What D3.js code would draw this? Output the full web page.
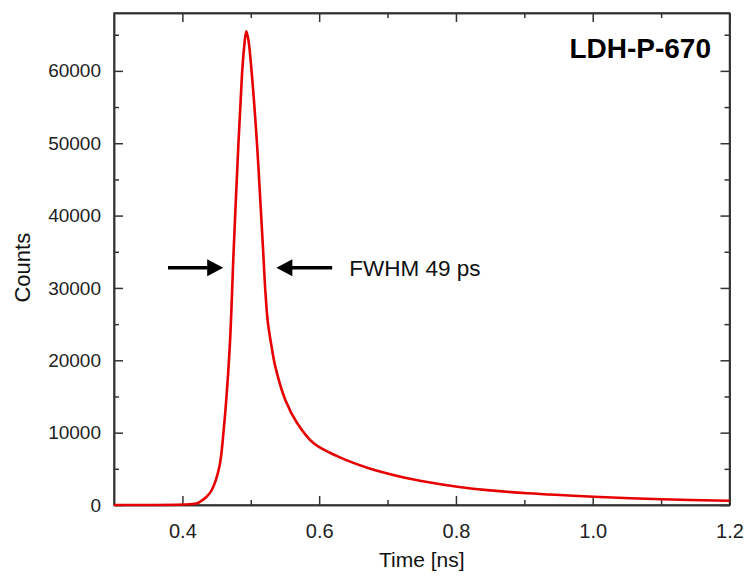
<!DOCTYPE html>
<html>
<head>
<meta charset="utf-8">
<script src="https://cdn.jsdelivr.net/npm/d3@7"></script>
<style>
  html, body { margin: 0; padding: 0; background: #fff; }
  svg { display: block; font-family: "Liberation Sans", Arial, sans-serif; }
</style>
</head>
<body>
<svg id="chart" width="745" height="576"></svg>
<script>
// ---- data ----
const times  = [0.30, 0.35, 0.40, 0.42, 0.426, 0.435, 0.443, 0.454, 0.460, 0.469, 0.475, 0.482, 0.487, 0.490, 0.4934, 0.4965, 0.5018, 0.509, 0.5147, 0.5180, 0.5212, 0.5249, 0.5300, 0.5359, 0.5505, 0.5677, 0.5916, 0.6263, 0.6703, 0.719, 0.760, 0.802, 0.850, 0.905, 1.002, 1.102, 1.200];
const counts = [0,    0,    60,   200,  456,   1100,  2075,  5255,  9958,  21437, 35267, 50065, 59235, 63000, 65457,  64300,  59235,  50065, 40800,  35270,  29740,  25310,  22130,  19130,  14520,  11340,  8570,   6750,   5150,   3910,  3150,  2530,  2020,  1618,  1148,  788,   595];
const xMajorTicks = [0.4, 0.6, 0.8, 1.0, 1.2];
const xMinorTicks = [0.5, 0.7, 0.9, 1.1];
const yMajorTicks = [0, 10000, 20000, 30000, 40000, 50000, 60000];
const yMinorTicks = [5000, 15000, 25000, 35000, 45000, 55000, 65000];
const xDomain = [0.3, 1.2];
const yDomain = [0, 68000];
const titleText = "LDH-P-670";
const fwhmText = "FWHM 49 ps";
const xLabel = "Time [ns]";
const yLabel = "Counts";
const fwhmLevel = 32800;        // counts level of the FWHM arrows
const leftArrow = [0.379, 0.4597];   // tail, tip (time)
const rightArrow = [0.619, 0.5374];  // tail, tip (time)
const fwhmTextAt = 0.644;

// ---- layout ----
const svg = d3.select("#chart");
const L = 114, R = 729.5, T = 13, B = 505;
const x = d3.scaleLinear().domain(xDomain).range([L, R]);
const y = d3.scaleLinear().domain(yDomain).range([B, T]);
const axisColor = "#333";
const tickFont = "19px";

function styleAxis(g, fontSize) {
  g.selectAll(".domain").attr("stroke", axisColor).attr("stroke-width", 1.5);
  g.selectAll(".tick line").attr("stroke", axisColor).attr("stroke-width", 1.5);
  g.selectAll(".tick text").attr("fill", "#222").style("font-size", fontSize)
    .style("font-family", '"Liberation Sans", Arial, sans-serif');
}

// bottom axis (major, labelled)
const gxb = svg.append("g").attr("transform", `translate(0,${B})`)
  .call(d3.axisBottom(x).tickValues(xMajorTicks).tickFormat(d3.format(".1f"))
    .tickSizeInner(-9).tickSizeOuter(0).tickPadding(19));
styleAxis(gxb, "20px");
svg.append("g").attr("transform", `translate(0,${B})`)
  .call(d3.axisBottom(x).tickValues(xMinorTicks).tickFormat("").tickSizeInner(-5).tickSizeOuter(0))
  .call(g => styleAxis(g, tickFont));

// top axis
svg.append("g").attr("transform", `translate(0,${T})`)
  .call(d3.axisTop(x).tickValues(xMajorTicks).tickFormat("").tickSizeInner(-9).tickSizeOuter(0))
  .call(g => styleAxis(g, tickFont));
svg.append("g").attr("transform", `translate(0,${T})`)
  .call(d3.axisTop(x).tickValues(xMinorTicks).tickFormat("").tickSizeInner(-5).tickSizeOuter(0))
  .call(g => styleAxis(g, tickFont));

// left axis (major, labelled)
const gyl = svg.append("g").attr("transform", `translate(${L},0)`)
  .call(d3.axisLeft(y).tickValues(yMajorTicks).tickFormat(d3.format("d"))
    .tickSizeInner(-9).tickSizeOuter(0).tickPadding(13));
styleAxis(gyl, tickFont);
svg.append("g").attr("transform", `translate(${L},0)`)
  .call(d3.axisLeft(y).tickValues(yMinorTicks).tickFormat("").tickSizeInner(-5).tickSizeOuter(0))
  .call(g => styleAxis(g, tickFont));

// right axis
svg.append("g").attr("transform", `translate(${R},0)`)
  .call(d3.axisRight(y).tickValues(yMajorTicks).tickFormat("").tickSizeInner(-9).tickSizeOuter(0))
  .call(g => styleAxis(g, tickFont));
svg.append("g").attr("transform", `translate(${R},0)`)
  .call(d3.axisRight(y).tickValues(yMinorTicks).tickFormat("").tickSizeInner(-5).tickSizeOuter(0))
  .call(g => styleAxis(g, tickFont));

// frame
svg.append("rect").attr("x", L).attr("y", T).attr("width", R - L).attr("height", B - T)
  .attr("fill", "none").attr("stroke", axisColor).attr("stroke-width", 1.5);

// data line
const data = times.map((t, i) => ({ t, c: counts[i] }));
svg.append("path").datum(data)
  .attr("fill", "none").attr("stroke", "#e60000").attr("stroke-width", 2.6)
  .attr("stroke-linejoin", "round")
  .attr("d", d3.line().x(d => x(d.t)).y(d => y(d.c)).curve(d3.curveCatmullRom.alpha(0.5)));

// axis labels
svg.append("text").attr("x", x(0.75)).attr("y", 567).attr("text-anchor", "middle")
  .style("font-size", "21px").attr("fill", "#111").text(xLabel);
svg.append("text").attr("transform", `translate(30,${y(32800)}) rotate(-90)`)
  .attr("text-anchor", "middle").style("font-size", "22px").attr("fill", "#111").text(yLabel);

// title
svg.append("text").attr("x", 711).attr("y", 58).attr("text-anchor", "end")
  .style("font-size", "28px").style("font-weight", "bold").attr("fill", "#000").text(titleText);

// FWHM arrows
function arrow(tail, tip) {
  const y0 = y(fwhmLevel);
  const x0 = x(tail), x1 = x(tip);
  const dir = Math.sign(x1 - x0);
  const headLen = 16, headHalf = 8.5;
  svg.append("line").attr("x1", x0).attr("y1", y0).attr("x2", x1 - dir * headLen + dir * 2).attr("y2", y0)
    .attr("stroke", "#000").attr("stroke-width", 3.5);
  svg.append("path")
    .attr("d", `M${x1},${y0} L${x1 - dir * headLen},${y0 - headHalf} L${x1 - dir * headLen},${y0 + headHalf} Z`)
    .attr("fill", "#000");
}
arrow(leftArrow[0], leftArrow[1]);
arrow(rightArrow[0], rightArrow[1]);
svg.append("text").attr("x", x(fwhmTextAt)).attr("y", y(fwhmLevel) + 8)
  .style("font-size", "22.5px").attr("fill", "#111").text(fwhmText);
</script>
</body>
</html>
